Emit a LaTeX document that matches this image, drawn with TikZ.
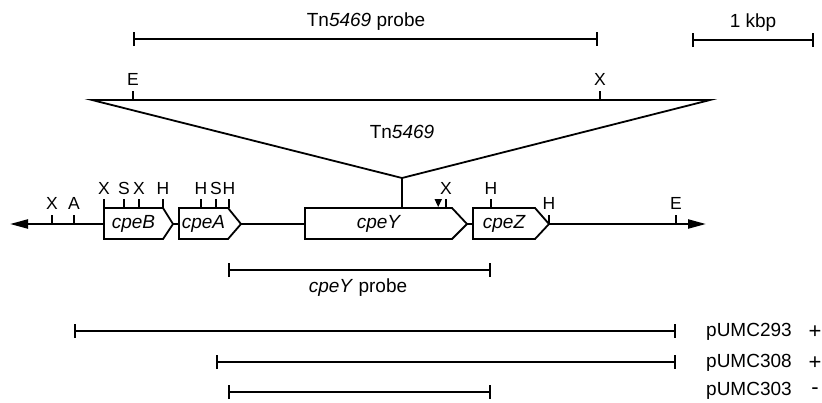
\documentclass[tikz,border=0pt]{standalone}
\usepackage{fontspec}
\setmainfont{Liberation Sans}
\usetikzlibrary{arrows.meta}

\begin{document}
\begin{tikzpicture}[x=1pt,y=-1pt,
    font=\fontsize{19}{22}\selectfont,
    dna/.style={line width=2.2pt},
    genebox/.style={line width=1.8pt,line join=miter},
    genelbl/.style={inner sep=0pt,font=\fontsize{19}{22}\selectfont\itshape},
    tick/.style={line width=1.6pt},
    site/.style={inner sep=0pt,font=\fontsize{17.5}{20}\selectfont},
    bar/.style={line width=1.8pt,{Bar[width=14pt,line width=1.6pt]}-{Bar[width=14pt,line width=1.6pt]}}]
  \useasboundingbox (0,0) rectangle (822,402);
  % genes
  \foreach \nm/\xa/\xb/\xc in {cpeB/104/163/173,cpeA/179/228/241,cpeY/305/452/467,cpeZ/473/535/549}
  {
    \draw[genebox] (\xa,208) -- (\xb,208) -- (\xc,224) -- (\xb,239) -- (\xa,239) -- cycle;
    \node[genelbl] (\nm) at ({(\xa+\xb)/2},224) {\nm};
    \coordinate (\nm-w) at (\xa,224);
    \coordinate (\nm-e) at (\xc,224);
  }
  \coordinate (leftend) at (10,224);
  \coordinate (rightend) at (706,224);
  \draw[dna,{Triangle[length=18pt,width=9pt]}-] (leftend) -- (cpeB-w);
  \draw[dna] (cpeB-e) -- (cpeA-w);
  \draw[dna] (cpeA-e) -- (cpeY-w);
  \draw[dna] (cpeY-e) -- (cpeZ-w);
  \draw[dna,-{Triangle[length=18pt,width=9pt]}] (cpeZ-e) -- (rightend);
  % sites on the line
  \foreach \x/\lab in {52/X,74/A,549/H,676/E}
  {
    \draw[tick] (\x,224) -- (\x,215);
    \node[site] (lo\x) at (\x,203) {\lab};
  }
  % sites on the genes
  \foreach \x/\lab in {104/X,124/S,139/X,163/H,201/H,216/S,229/H,446/X,491/H}
  {
    \draw[tick] (\x,208) -- (\x,199);
    \node[site] (hi\x) at (\x,188) {\lab};
  }
  \fill (434.5,199) -- (442,199) -- (438.2,207) -- cycle;
  % insertion
  \coordinate (inl) at (92,100);
  \coordinate (inr) at (710,100);
  \coordinate (apex) at (402,178);
  \coordinate (ins) at (402,208);
  \draw[genebox] (inl) -- (inr) -- (apex) -- cycle;
  \draw[genebox] (apex) -- (ins);
  \node[inner sep=0pt] (tn) at (402,132) {Tn\textit{5469}};
  \foreach \x/\lab in {133/E,600/X}
  {
    \draw[tick] (\x,100) -- (\x,91);
    \node[site] (tn\x) at (\x,79) {\lab};
  }
  % probes and clones
  \foreach \nm/\xa/\xb/\y in {tnprobe/133/598/39,scale/692/814/40,yprobe/228/491/270,p293/74/676/331,p308/216/676/362,p303/228/491/392}
  {
    \coordinate (\nm-l) at (\xa,\y);
    \coordinate (\nm-r) at (\xb,\y);
    \draw[bar] (\nm-l) -- (\nm-r);
  }
  \node[inner sep=0pt] (tnlbl) at (366,22) {Tn\textit{5469} probe};
  \node[inner sep=0pt] (kbp) at (753,23) {1 kbp};
  \node[inner sep=0pt] (ylbl) at (358,288) {\textit{cpeY} probe};
  \foreach \nm/\y/\sg in {293/331/+,308/362/+,303/390/-}
  {
    \node[inner sep=0pt,anchor=west] (c\nm) at (706,\y+1) {pUMC\nm};
    \node[inner sep=0pt,font=\fontsize{22}{24}\selectfont] (s\nm) at (815,\y+1) {\sg};
  }
\end{tikzpicture}
\end{document}
